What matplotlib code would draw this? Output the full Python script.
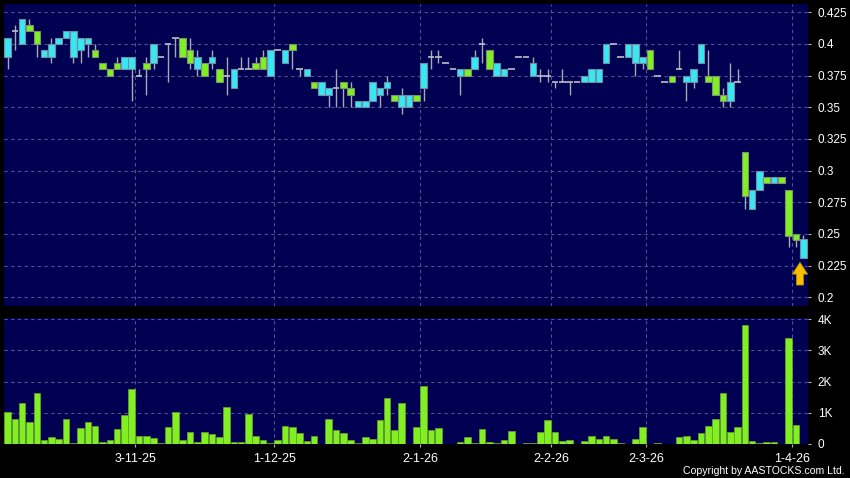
import matplotlib
matplotlib.use("Agg")
import matplotlib.pyplot as plt
import numpy as np

# daily OHLC (HKD), oldest first
opens = [0.390, 0.410, 0.400, 0.415, 0.410, 0.390, 0.390, 0.400, 0.405, 0.390,
         0.395, 0.400, 0.395, 0.385, 0.380, 0.385, 0.380, 0.380, 0.375, 0.385,
         0.385, 0.390, 0.400, 0.405, 0.405, 0.395, 0.380, 0.385, 0.385, 0.380,
         0.375, 0.365, 0.380, 0.380, 0.385, 0.390, 0.375, 0.395, 0.385, 0.400,
         0.380, 0.375, 0.370, 0.360, 0.360, 0.365, 0.370, 0.365, 0.350, 0.350,
         0.355, 0.360, 0.365, 0.360, 0.350, 0.350, 0.360, 0.365, 0.390, 0.390,
         0.385, 0.380, 0.375, 0.380, 0.380, 0.400, 0.395, 0.375, 0.375, 0.380,
         0.390, 0.390, 0.375, 0.375, 0.375, 0.370, 0.370, 0.370, 0.370, 0.370,
         0.370, 0.370, 0.385, 0.400, 0.390, 0.390, 0.385, 0.385, 0.395, 0.375,
         0.370, 0.375, 0.380, 0.370, 0.370, 0.385, 0.375, 0.375, 0.360, 0.355,
         0.370, 0.315, 0.270, 0.285, 0.295, 0.290, 0.295, 0.285, 0.250, 0.231]
highs = [0.405, 0.415, 0.420, 0.420, 0.410, 0.395, 0.405, 0.405, 0.410, 0.410,
         0.405, 0.405, 0.400, 0.385, 0.380, 0.390, 0.390, 0.390, 0.380, 0.390,
         0.400, 0.390, 0.400, 0.405, 0.405, 0.405, 0.395, 0.385, 0.395, 0.380,
         0.390, 0.380, 0.390, 0.390, 0.390, 0.395, 0.395, 0.395, 0.395, 0.400,
         0.380, 0.380, 0.370, 0.370, 0.365, 0.380, 0.370, 0.370, 0.355, 0.355,
         0.370, 0.365, 0.375, 0.360, 0.365, 0.360, 0.360, 0.385, 0.395, 0.395,
         0.385, 0.380, 0.380, 0.380, 0.395, 0.405, 0.395, 0.385, 0.380, 0.380,
         0.390, 0.390, 0.390, 0.380, 0.380, 0.370, 0.380, 0.370, 0.370, 0.375,
         0.380, 0.380, 0.400, 0.400, 0.390, 0.400, 0.400, 0.390, 0.395, 0.375,
         0.370, 0.375, 0.395, 0.375, 0.380, 0.400, 0.395, 0.375, 0.365, 0.385,
         0.380, 0.315, 0.285, 0.300, 0.295, 0.295, 0.295, 0.285, 0.250, 0.249]
lows = [0.380, 0.395, 0.400, 0.410, 0.390, 0.390, 0.385, 0.400, 0.405, 0.385,
        0.385, 0.390, 0.390, 0.380, 0.375, 0.380, 0.380, 0.355, 0.375, 0.360,
        0.380, 0.390, 0.370, 0.390, 0.390, 0.380, 0.375, 0.375, 0.380, 0.370,
        0.360, 0.365, 0.380, 0.380, 0.380, 0.380, 0.375, 0.395, 0.385, 0.380,
        0.375, 0.375, 0.365, 0.360, 0.350, 0.350, 0.350, 0.350, 0.350, 0.350,
        0.355, 0.350, 0.360, 0.355, 0.345, 0.350, 0.355, 0.355, 0.380, 0.385,
        0.385, 0.380, 0.360, 0.375, 0.380, 0.385, 0.380, 0.375, 0.375, 0.380,
        0.390, 0.390, 0.375, 0.370, 0.370, 0.365, 0.370, 0.360, 0.370, 0.370,
        0.370, 0.370, 0.385, 0.400, 0.390, 0.390, 0.375, 0.380, 0.380, 0.375,
        0.370, 0.370, 0.380, 0.355, 0.365, 0.385, 0.370, 0.360, 0.350, 0.350,
        0.370, 0.270, 0.270, 0.285, 0.290, 0.290, 0.290, 0.240, 0.240, 0.231]
closes = [0.405, 0.410, 0.420, 0.410, 0.400, 0.395, 0.400, 0.405, 0.410, 0.410,
          0.405, 0.405, 0.390, 0.380, 0.375, 0.380, 0.390, 0.390, 0.375, 0.380,
          0.400, 0.390, 0.400, 0.405, 0.390, 0.385, 0.390, 0.375, 0.390, 0.370,
          0.375, 0.380, 0.380, 0.380, 0.380, 0.380, 0.395, 0.395, 0.395, 0.395,
          0.380, 0.380, 0.365, 0.370, 0.365, 0.365, 0.365, 0.360, 0.355, 0.355,
          0.370, 0.365, 0.370, 0.355, 0.360, 0.360, 0.355, 0.385, 0.390, 0.390,
          0.385, 0.380, 0.380, 0.375, 0.390, 0.400, 0.380, 0.385, 0.380, 0.380,
          0.390, 0.390, 0.385, 0.375, 0.375, 0.370, 0.370, 0.370, 0.370, 0.375,
          0.380, 0.380, 0.400, 0.400, 0.390, 0.400, 0.400, 0.390, 0.380, 0.375,
          0.370, 0.370, 0.380, 0.375, 0.380, 0.400, 0.370, 0.360, 0.355, 0.370,
          0.370, 0.280, 0.285, 0.300, 0.290, 0.295, 0.290, 0.248, 0.245, 0.246]

# turnover in thousands of shares
volume = [1.02, 0.80, 1.32, 0.71, 1.62, 0.13, 0.23, 0.16, 0.80, 0.04,
          0.52, 0.71, 0.59, 0.06, 0.13, 0.49, 0.93, 1.78, 0.27, 0.27,
          0.19, 0.02, 0.56, 1.02, 0.14, 0.38, 0.05, 0.40, 0.31, 0.24,
          1.20, 0.06, 0.06, 0.95, 0.25, 0.13, 0.02, 0.13, 0.58, 0.56,
          0.34, 0.10, 0.25, 0.01, 0.79, 0.46, 0.36, 0.14, 0.03, 0.24,
          0.16, 0.78, 1.49, 0.46, 1.33, 0.01, 0.53, 1.86, 0.45, 0.50,
          0.00, 0.00, 0.08, 0.21, 0.02, 0.49, 0.06, 0.02, 0.14, 0.42,
          0.00, 0.03, 0.04, 0.39, 0.76, 0.38, 0.11, 0.12, 0.00, 0.11,
          0.27, 0.17, 0.27, 0.15, 0.03, 0.00, 0.17, 0.53, 0.00, 0.02,
          0.00, 0.00, 0.21, 0.27, 0.14, 0.34, 0.59, 0.81, 1.62, 0.39,
          0.55, 3.83, 0.09, 0.02, 0.08, 0.08, 0.00, 3.41, 0.62, 0.00]

date_labels = ["3-11-25", "1-12-25", "2-1-26", "2-2-26", "2-3-26", "1-4-26"]
date_index = [18, 37, 57, 75, 88, 108]

price_ticks = [0.2, 0.225, 0.25, 0.275, 0.3, 0.325, 0.35, 0.375, 0.4, 0.425]
price_labels = ["0.2", "0.225", "0.25", "0.275", "0.3", "0.325", "0.35", "0.375", "0.4", "0.425"]
vol_ticks = [0, 1, 2, 3, 4]
vol_labels = ["0", "1K", "2K", "3K", "4K"]

BG = "#000052"
CYAN = "#38e6f4"
LIME = "#80f022"
GRID = "#52528f"
WICK = "#a8a8b0"

plt.rcParams["font.family"] = ["Liberation Sans", "DejaVu Sans"]

o = np.array(opens)
h = np.array(highs)
l = np.array(lows)
c = np.array(closes)
x = np.arange(len(o))

fig = plt.figure(figsize=(8.5, 4.78), dpi=100, facecolor="black")
ax1 = fig.add_axes([3.5 / 850, 1 - 306 / 478, 804 / 850, 302.5 / 478])
ax2 = fig.add_axes([3.5 / 850, 1 - 444 / 478, 804 / 850, 126.5 / 478], sharex=ax1)

for ax in (ax1, ax2):
    ax.set_facecolor(BG)
    for s in ax.spines.values():
        s.set_visible(False)
    ax.yaxis.tick_right()
    ax.set_axisbelow(True)
    for d in date_index:
        ax.axvline(d - 0.5, color=GRID, lw=0.8, ls=(0, (3, 3)), zorder=0)

# candles
width = 0.9
up = c > o
down = c < o
flat = c == o
ax1.vlines(x, l, h, color=WICK, lw=1.0, zorder=2)
ax1.bar(x[up], (c - o)[up], bottom=o[up], width=width, color=CYAN,
        edgecolor="#6f8fa0", linewidth=0.8, zorder=3)
ax1.bar(x[down], (o - c)[down], bottom=c[down], width=width, color=LIME,
        edgecolor="#7f9070", linewidth=0.8, zorder=3)
ax1.hlines(o[flat], x[flat] - width / 2, x[flat] + width / 2, color="#c0c0c8", lw=1.2, zorder=3)

ax1.set_xlim(-0.56, 109.58)
ax1.set_ylim(0.19313, 0.43195)
ax1.set_yticks(price_ticks)
ax1.set_yticklabels(price_labels)
ax1.grid(axis="y", color=GRID, lw=0.8, ls=(0, (3, 3)))
ax1.tick_params(axis="y", colors="#b0b0b0", labelcolor="white", labelsize=8.5,
                length=2.2, width=0.8, pad=5.2)
ax1.tick_params(axis="x", bottom=False, labelbottom=False)

# marker under the last session
last = len(o) - 1
ax1.annotate("", xy=(last - 0.45, l[last] - 0.0034), xytext=(last - 0.45, l[last] - 0.0213),
             arrowprops=dict(arrowstyle="simple,head_length=0.85,head_width=1.1,tail_width=0.5",
                             fc="#f5c000", ec="#b88a00", lw=0.6, shrinkA=0, shrinkB=0,
                             mutation_scale=10),
             zorder=5)

# volume
ax2.bar(x, volume, width=width, color=LIME, edgecolor="#6fa030", linewidth=0.5, zorder=3)
ax2.set_ylim(0, 4.058)
ax2.set_yticks(vol_ticks)
ax2.set_yticklabels(vol_labels)
ax2.grid(axis="y", color=GRID, lw=0.8, ls=(0, (3, 3)))
ax2.tick_params(axis="y", colors="#b0b0b0", labelcolor="white", labelsize=8.5,
                length=2.2, width=0.8, pad=5.2)
ax2.set_xticks([d - 0.5 for d in date_index])
ax2.set_xticklabels(date_labels)
ax2.tick_params(axis="x", colors="#b0b0b0", labelcolor="white", labelsize=9,
                length=2.2, width=0.8, pad=4.3)

fig.text(845 / 850, 1 - 471 / 478, "Copyright by AASTOCKS.com Ltd.", color="white",
         fontsize=7.6, ha="right", va="center")

fig.savefig("out.png", dpi=100, facecolor="black")
